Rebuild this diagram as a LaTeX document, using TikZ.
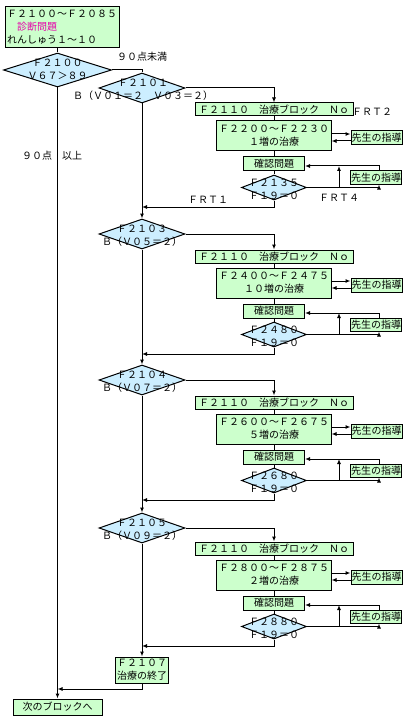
\documentclass[tikz,border=0pt]{standalone}
\usepackage{fontspec}
\setmainfont{Noto Sans CJK JP}
\usetikzlibrary{arrows.meta,shapes.geometric}
\definecolor{boxg}{RGB}{204,255,204}
\definecolor{diab}{RGB}{204,238,255}
\definecolor{mag}{RGB}{230,0,170}
\newcommand\fsz{\fontsize{10}{13}\selectfont}
\newcommand\trtblock[4]{%
  \begin{scope}[yshift=-#2pt]
    \node[box, minimum width=158pt, minimum height=13pt] (n#1) at (274,109.5) {Ｆ２１１０　治療ブロック　Ｎｏ};
    \node[box, minimum width=115pt, minimum height=30pt] (g#1) at (274,136) {#3};
    \node[box, minimum width=51pt, minimum height=14pt] (s#1) at (376.5,138) {先生の指導};
    \node[box, minimum width=61pt, minimum height=14pt] (k#1) at (274,164) {確認問題};
    \node[dia, minimum width=65pt, minimum height=25pt] (q#1) at (274,187.5) {};
    \node[dtxt] (qt#1) at (274,189.5) {#4};
    \node[box, minimum width=51pt, minimum height=13pt] (r#1) at (376,177.5) {先生の指導};
    \coordinate (m#1) at (142,207);
    \coordinate (fb#1) at (379,166);
    \coordinate (br#1) at (339,187.5);
    \coordinate (ua#1) at (331.5,134);
    \coordinate (la#1) at (331.5,141);
  \end{scope}
  \draw (n#1.south) -- (g#1.north);
  \draw (g#1.south) -- (k#1.north);
  \draw (k#1.south) -- (q#1.north);
  \draw[arr] (ua#1) -- (ua#1 -| s#1.west);
  \draw[arr] (la#1 -| s#1.west) -- (la#1);
  \draw[arr] (q#1.east) -| (fb#1 |- r#1.south);
  \draw[arr] (fb#1 |- r#1.north) -- (fb#1) -- (fb#1 -| k#1.east);
  \draw[arr] (br#1) -- (br#1 |- fb#1);
  \draw[arr] (q#1.south) |- (m#1);
}
\begin{document}
\begin{tikzpicture}[x=1pt,y=-1pt,line width=1pt,
  box/.style={draw=black, fill=boxg, inner sep=0pt, align=center, font=\fsz},
  dia/.style={draw=black, fill=diab, diamond, inner sep=0pt},
  dtxt/.style={inner sep=0pt, align=center, font=\fsz},
  lbl/.style={inner sep=0pt, font=\fsz},
  arr/.style={-{Latex[length=5pt,width=4pt]}}]
\useasboundingbox[fill=white] (0,0) rectangle (406,722);

% top
\node[box, minimum width=114pt, minimum height=41pt, align=left] (top) at (62,27.5)
  {Ｆ２１００～Ｆ２０８５\\\textcolor{mag}{　診断問題}\\れんしゅう１～１０};
\node[dia, minimum width=108pt, minimum height=34pt] (d1) at (57.5,70) {};
\node[dtxt] (d1t) at (57.5,69) {Ｆ２１００\\Ｖ６７＞８９};
\draw (d1.north |- top.south) -- (d1.north);
\node[lbl] (l90a) at (142,57) {９０点未満};
\node[lbl] (l90b) at (52,156) {９０点　以上};

% left column diamonds
\node[dia, minimum width=86pt, minimum height=30pt] (d2) at (142,88) {};
\node[dtxt] (d2t) at (143,90) {Ｆ２１０１\\Ｂ（Ｖ０１＝２　Ｖ０３＝２）};
\node[dia, minimum width=86pt, minimum height=30pt] (d3) at (142,234) {};
\node[dtxt] (d3t) at (142,236) {Ｆ２１０３\\Ｂ（Ｖ０５＝２）};
\node[dia, minimum width=86pt, minimum height=30pt] (d4) at (142,380) {};
\node[dtxt] (d4t) at (142,382) {Ｆ２１０４\\Ｂ（Ｖ０７＝２）};
\node[dia, minimum width=86pt, minimum height=30pt] (d5) at (142,528) {};
\node[dtxt] (d5t) at (142,530) {Ｆ２１０５\\Ｂ（Ｖ０９＝２）};

\draw (d1.east) -| (d2.north);

% treatment blocks
\trtblock{a}{0}{Ｆ２２００～Ｆ２２３０\\１増の治療}{Ｆ２１３５\\Ｆ１９＝０}
\trtblock{b}{147}{Ｆ２４００～Ｆ２４７５\\１０増の治療}{Ｆ２４８０\\Ｆ１９＝０}
\trtblock{c}{293}{Ｆ２６００～Ｆ２６７５\\５増の治療}{Ｆ２６８０\\Ｆ１９＝０}
\trtblock{d}{439}{Ｆ２８００～Ｆ２８７５\\２増の治療}{Ｆ２８８０\\Ｆ１９＝０}

\draw[arr] (d2.east) -| (na.north);
\draw[arr] (d3.east) -| (nb.north);
\draw[arr] (d4.east) -| (nc.north);
\draw[arr] (d5.east) -| (nd.north);

\node[lbl] (frt2) at (372,112) {ＦＲＴ２};
\node[lbl] (frt1) at (208,200) {ＦＲＴ１};
\node[lbl] (frt4) at (339,197.5) {ＦＲＴ４};

% end boxes
\node[box, minimum width=53pt, minimum height=26pt] (fin) at (142,670) {Ｆ２１０７\\治療の終了};
\node[box, minimum width=89pt, minimum height=16pt] (next) at (57.5,707) {次のブロックへ};
\coordinate (me) at (57.5,689);

\draw[arr] (d2.south) -- (d3.north);
\draw[arr] (d3.south) -- (d4.north);
\draw[arr] (d4.south) -- (d5.north);
\draw[arr] (d5.south) -- (fin.north);
\draw[arr] (fin.south) |- (me);
\draw[arr] (d1.south) -- (next.north);
\end{tikzpicture}
\end{document}
